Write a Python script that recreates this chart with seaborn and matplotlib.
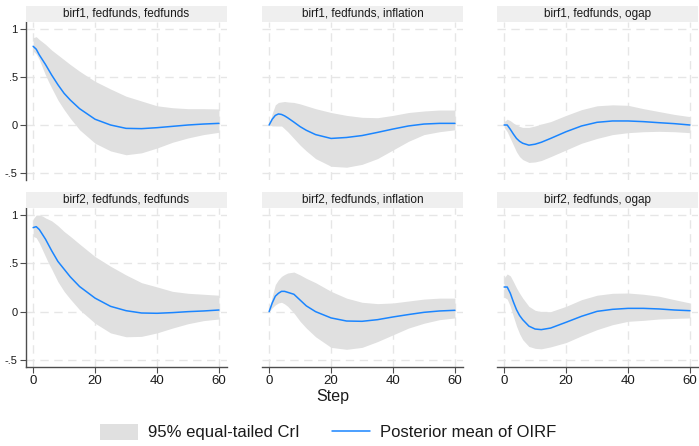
import matplotlib
matplotlib.use("Agg")
import matplotlib.pyplot as plt
import seaborn as sns
import pandas as pd
from matplotlib.patches import Rectangle, Patch
from matplotlib.lines import Line2D

sns.set_theme(style="white")
plt.rcParams['font.family'] = ['Liberation Sans', 'DejaVu Sans']

steps = [0, 1, 2, 3, 4, 5, 6, 8, 10, 12, 15, 20, 25, 30, 35, 40, 45, 50, 55, 60]

titles = ["birf1, fedfunds, fedfunds", "birf1, fedfunds, inflation", "birf1, fedfunds, ogap",
          "birf2, fedfunds, fedfunds", "birf2, fedfunds, inflation", "birf2, fedfunds, ogap"]

b1_ff_mean = [0.82, 0.79, 0.73, 0.68, 0.63, 0.575, 0.52, 0.42, 0.33, 0.26, 0.17, 0.06, 0.0, -0.035, -0.038, -0.028, -0.014, 0.0, 0.01, 0.017]
b1_ff_up = [0.91, 0.92, 0.89, 0.865, 0.84, 0.81, 0.78, 0.73, 0.68, 0.63, 0.56, 0.455, 0.375, 0.30, 0.25, 0.20, 0.18, 0.17, 0.17, 0.167]
b1_ff_lo = [0.77, 0.74, 0.68, 0.60, 0.52, 0.45, 0.385, 0.26, 0.16, 0.07, -0.05, -0.19, -0.27, -0.31, -0.29, -0.24, -0.18, -0.135, -0.10, -0.076]

b1_inf_mean = [0.0, 0.06, 0.10, 0.115, 0.11, 0.095, 0.075, 0.03, -0.017, -0.055, -0.10, -0.14, -0.13, -0.11, -0.077, -0.042, -0.01, 0.01, 0.017, 0.017]
b1_inf_up = [0.0, 0.12, 0.21, 0.235, 0.24, 0.245, 0.24, 0.235, 0.22, 0.20, 0.17, 0.13, 0.10, 0.08, 0.076, 0.10, 0.13, 0.146, 0.156, 0.156]
b1_inf_lo = [0.0, -0.01, -0.01, -0.01, -0.01, -0.04, -0.07, -0.14, -0.21, -0.27, -0.35, -0.43, -0.44, -0.41, -0.35, -0.26, -0.17, -0.10, -0.07, -0.05]

b1_og_mean = [0.0, 0.0, -0.045, -0.095, -0.14, -0.17, -0.19, -0.21, -0.20, -0.18, -0.14, -0.07, -0.01, 0.028, 0.042, 0.042, 0.035, 0.024, 0.014, 0.0]
b1_og_up = [0.035, 0.06, 0.045, 0.02, 0.0, -0.015, -0.025, -0.025, -0.01, 0.01, 0.035, 0.10, 0.16, 0.20, 0.21, 0.205, 0.17, 0.14, 0.11, 0.087]
b1_og_lo = [-0.025, -0.07, -0.14, -0.21, -0.28, -0.33, -0.36, -0.39, -0.385, -0.37, -0.33, -0.26, -0.19, -0.14, -0.10, -0.08, -0.07, -0.066, -0.07, -0.08]

b2_ff_mean = [0.87, 0.88, 0.85, 0.80, 0.75, 0.69, 0.63, 0.52, 0.44, 0.36, 0.26, 0.14, 0.055, 0.01, -0.014, -0.017, -0.01, 0.0, 0.007, 0.017]
b2_ff_up = [0.96, 1.0, 1.0, 0.99, 0.97, 0.955, 0.94, 0.89, 0.83, 0.78, 0.70, 0.57, 0.47, 0.38, 0.30, 0.256, 0.21, 0.19, 0.18, 0.17]
b2_ff_lo = [0.78, 0.765, 0.71, 0.64, 0.57, 0.50, 0.44, 0.31, 0.21, 0.13, 0.02, -0.12, -0.22, -0.26, -0.256, -0.22, -0.17, -0.125, -0.093, -0.076]

b2_inf_mean = [0.0, 0.09, 0.16, 0.19, 0.21, 0.21, 0.20, 0.18, 0.12, 0.06, 0.0, -0.065, -0.097, -0.10, -0.083, -0.055, -0.03, -0.007, 0.007, 0.014]
b2_inf_up = [0.0, 0.16, 0.28, 0.33, 0.365, 0.385, 0.40, 0.41, 0.38, 0.345, 0.30, 0.21, 0.14, 0.097, 0.083, 0.09, 0.11, 0.13, 0.14, 0.14]
b2_inf_lo = [0.0, 0.04, 0.07, 0.09, 0.097, 0.08, 0.055, -0.014, -0.10, -0.17, -0.26, -0.37, -0.39, -0.37, -0.31, -0.24, -0.17, -0.12, -0.083, -0.065]

b2_og_mean = [0.255, 0.255, 0.19, 0.10, 0.02, -0.04, -0.083, -0.15, -0.18, -0.186, -0.17, -0.11, -0.048, 0.003, 0.024, 0.034, 0.034, 0.028, 0.017, 0.01]
b2_og_up = [0.35, 0.39, 0.37, 0.31, 0.245, 0.19, 0.14, 0.055, 0.014, 0.0, 0.0, 0.055, 0.124, 0.17, 0.19, 0.193, 0.18, 0.16, 0.124, 0.09]
b2_og_lo = [0.15, 0.13, 0.055, -0.05, -0.15, -0.23, -0.29, -0.36, -0.38, -0.385, -0.365, -0.32, -0.25, -0.186, -0.135, -0.10, -0.09, -0.076, -0.07, -0.065]

panels = [
    (b1_ff_mean, b1_ff_up, b1_ff_lo), (b1_inf_mean, b1_inf_up, b1_inf_lo), (b1_og_mean, b1_og_up, b1_og_lo),
    (b2_ff_mean, b2_ff_up, b2_ff_lo), (b2_inf_mean, b2_inf_up, b2_inf_lo), (b2_og_mean, b2_og_up, b2_og_lo),
]

ytick_vals = [-0.5, 0, 0.5, 1]
ytick_labels = ["-.5", "0", ".5", "1"]
xtick_vals = [0, 20, 40, 60]
xtick_labels = ["0", "20", "40", "60"]
legend_labels = ["95% equal-tailed CrI", "Posterior mean of OIRF"]
xlabel = "Step"

LINE_COLOR = "#1a85ff"
BAND_COLOR = "#e0e0e0"
STRIP_COLOR = "#efefef"
GRID_COLOR = "#e6e6e6"
AXIS_COLOR = "#4d4d4d"
TEXT_COLOR = "#1a1a1a"

W, H = 699, 446
fig = plt.figure(figsize=(W / 100, H / 100), dpi=100)
fig.patch.set_facecolor("white")

col_left = [26, 262, 497]
col_w = 201
row_top = [22, 208]
row_h = [158, 159]
strip_h = 16

for i, (mean, up, lo) in enumerate(panels):
    r, c = divmod(i, 3)
    left = col_left[c] / W
    bottom = (H - row_top[r] - row_h[r]) / H
    ax = fig.add_axes([left, bottom, col_w / W, row_h[r] / H])
    df = pd.DataFrame({"step": steps, "mean": mean, "up": up, "lo": lo})
    ax.fill_between(df["step"], df["lo"], df["up"], color=BAND_COLOR, linewidth=0, zorder=2)
    sns.lineplot(data=df, x="step", y="mean", ax=ax, color=LINE_COLOR, linewidth=1.1, zorder=3)
    ax.set_xlim(-2.3, 62.6)
    ax.set_ylim(-0.573, 1.073)
    ax.set_xticks(xtick_vals)
    ax.set_yticks(ytick_vals)
    for x in xtick_vals:
        ax.axvline(x, color=GRID_COLOR, lw=1.0, ls=(0, (6, 4)), zorder=1)
    for y in ytick_vals:
        ax.axhline(y, color=GRID_COLOR, lw=1.0, ls=(0, (6, 4)), zorder=1)
    ax.set_xlabel("")
    ax.set_ylabel("")
    for s in ["top", "right"]:
        ax.spines[s].set_visible(False)
    ax.spines["left"].set_visible(c == 0)
    ax.spines["bottom"].set_visible(r == 1)
    for s in ["left", "bottom"]:
        ax.spines[s].set_color(AXIS_COLOR)
        ax.spines[s].set_linewidth(1.0)
    ax.tick_params(axis="y", left=(c == 0), labelleft=(c == 0), length=4, width=0.8,
                   color=AXIS_COLOR, labelsize=8, pad=2, labelcolor=TEXT_COLOR)
    ax.tick_params(axis="x", bottom=(r == 1), labelbottom=(r == 1), length=4, width=0.8,
                   color=AXIS_COLOR, labelsize=9.5, pad=2, labelcolor=TEXT_COLOR)
    if c == 0:
        ax.set_yticklabels(ytick_labels)
    if r == 1:
        ax.set_xticklabels(xtick_labels)
    ax.set_facecolor("white")
    sh = strip_h / row_h[r]
    ax.add_patch(Rectangle((0, 1), 1, sh, transform=ax.transAxes, facecolor=STRIP_COLOR,
                           edgecolor="none", clip_on=False, zorder=5))
    ax.text(0.5, 1 + sh / 2, titles[i], transform=ax.transAxes, ha="center", va="center",
            fontsize=8.5, color=TEXT_COLOR, zorder=6)

fig.text(333 / W, 1 - 397 / H, xlabel, ha="center", va="center", fontsize=11.5, color=TEXT_COLOR)

handles = [Patch(facecolor=BAND_COLOR, edgecolor="none", label=legend_labels[0]),
           Line2D([0], [0], color=LINE_COLOR, lw=1.1, label=legend_labels[1])]
fig.legend(handles=handles, loc="center", bbox_to_anchor=(328 / W, 1 - 432 / H), ncol=2,
           frameon=False, fontsize=12, handlelength=2.28, handleheight=1.14, columnspacing=1.9,
           handletextpad=0.6, labelcolor=TEXT_COLOR)

fig.savefig("out.png", dpi=100, facecolor="white")
